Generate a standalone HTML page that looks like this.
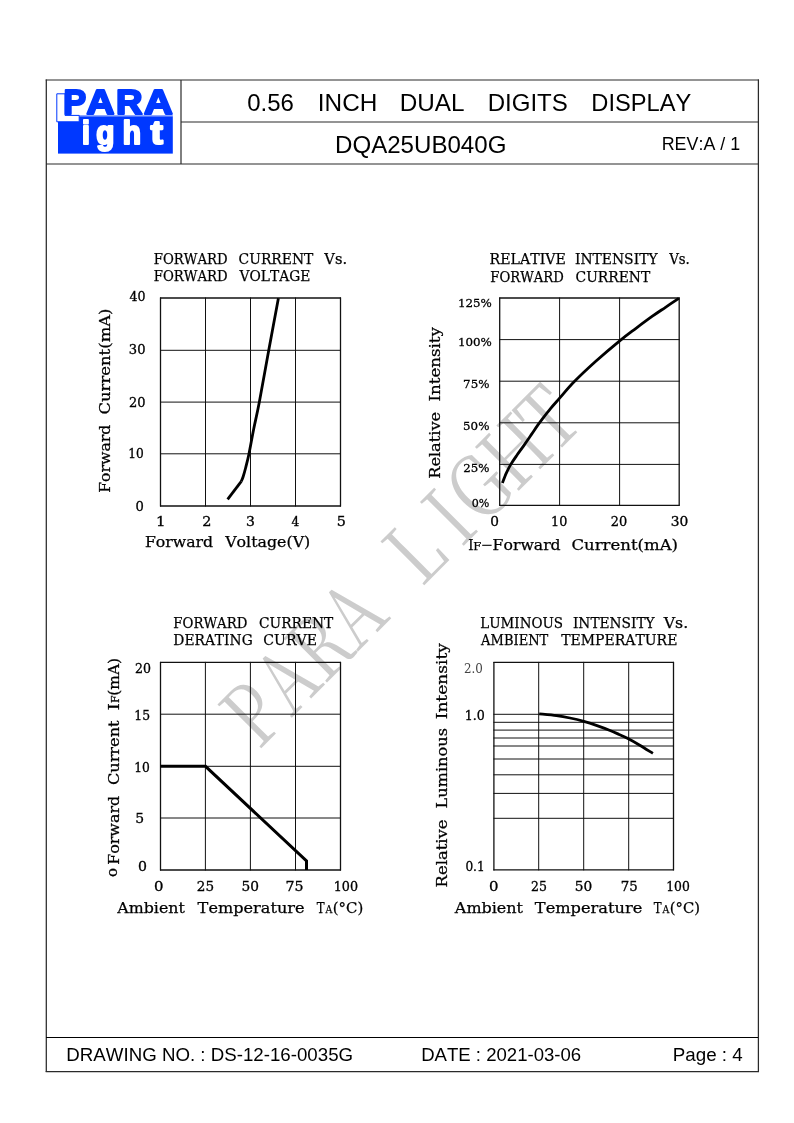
<!DOCTYPE html>
<html><head><meta charset="utf-8"><title>DQA25UB040G</title>
<style>
html,body{margin:0;padding:0;background:#fff;}
body{width:794px;height:1123px;overflow:hidden;}
svg{display:block;will-change:transform;}
text{white-space:pre;font-kerning:none;font-variant-ligatures:none;}
</style></head>
<body>
<svg width="794" height="1123" viewBox="0 0 794 1123">
<rect width="794" height="1123" fill="#fff"/>
<text transform="translate(258.80,750.70) rotate(-45.0) scale(0.79,1)" x="0.0 58.0 117.5 176.9 235.0 291.9 362.4 400.7 460.8 528.4" y="0" font-family='"Noto Serif CJK SC", "Liberation Serif", serif' font-weight="400" font-size="85" fill="#cccccc">PARA LIGHT</text>
<line x1="46.3" y1="79.5" x2="46.3" y2="1072" stroke="#2a2a2a" stroke-width="1.25"/>
<line x1="758.4" y1="79.5" x2="758.4" y2="1072" stroke="#2a2a2a" stroke-width="1.25"/>
<line x1="45.7" y1="80" x2="759" y2="80" stroke="#2a2a2a" stroke-width="1.2"/>
<line x1="45.7" y1="1071.5" x2="759" y2="1071.5" stroke="#2a2a2a" stroke-width="1.25"/>
<line x1="46" y1="164" x2="758" y2="164" stroke="#2a2a2a" stroke-width="1.2"/>
<line x1="181" y1="80" x2="181" y2="164" stroke="#2a2a2a" stroke-width="1.2"/>
<line x1="181" y1="122" x2="758" y2="122" stroke="#2a2a2a" stroke-width="1.2"/>
<line x1="46" y1="1037.5" x2="758" y2="1037.5" stroke="#000" stroke-width="1.05"/>
<rect x="58" y="116.2" width="114.8" height="37.4" fill="#0038ff"/>
<rect x="58" y="115.0" width="114.8" height="1.3" fill="#8fa6ff"/>
<path d="M56.8,93.8 H65 V115.4 H79.2 V121.8 H56.8 Z" fill="#fff" stroke="#0038ff" stroke-width="1.0"/>
<text x="63.53" y="113.90" font-family='"Liberation Sans", Arial, sans-serif' font-weight="bold" font-size="35.75581395348838" textLength="22.63" lengthAdjust="spacingAndGlyphs" fill="#0038ff" stroke="#0038ff" stroke-width="2.2" stroke-linejoin="round">P</text>
<text x="86.44" y="113.90" font-family='"Liberation Sans", Arial, sans-serif' font-weight="bold" font-size="35.75581395348838" textLength="27.88" lengthAdjust="spacingAndGlyphs" fill="#0038ff" stroke="#0038ff" stroke-width="2.2" stroke-linejoin="round">A</text>
<text x="116.14" y="113.90" font-family='"Liberation Sans", Arial, sans-serif' font-weight="bold" font-size="35.75581395348838" textLength="26.51" lengthAdjust="spacingAndGlyphs" fill="#0038ff" stroke="#0038ff" stroke-width="2.2" stroke-linejoin="round">R</text>
<text x="144.01" y="113.90" font-family='"Liberation Sans", Arial, sans-serif' font-weight="bold" font-size="35.75581395348838" textLength="28.74" lengthAdjust="spacingAndGlyphs" fill="#0038ff" stroke="#0038ff" stroke-width="2.2" stroke-linejoin="round">A</text>
<text x="82.02" y="144.40" font-family='"Liberation Sans", Arial, sans-serif' font-weight="bold" font-size="32.3" textLength="7.90" lengthAdjust="spacingAndGlyphs" fill="#fff" stroke="#fff" stroke-width="2.2" stroke-linejoin="round">i</text>
<text x="96.18" y="144.40" font-family='"Liberation Sans", Arial, sans-serif' font-weight="bold" font-size="32.3" textLength="18.10" lengthAdjust="spacingAndGlyphs" fill="#fff" stroke="#fff" stroke-width="2.2" stroke-linejoin="round">g</text>
<text x="122.82" y="144.40" font-family='"Liberation Sans", Arial, sans-serif' font-weight="bold" font-size="32.3" textLength="18.24" lengthAdjust="spacingAndGlyphs" fill="#fff" stroke="#fff" stroke-width="2.2" stroke-linejoin="round">h</text>
<text x="150.76" y="144.40" font-family='"Liberation Sans", Arial, sans-serif' font-weight="bold" font-size="32.3" textLength="12.09" lengthAdjust="spacingAndGlyphs" fill="#fff" stroke="#fff" stroke-width="2.2" stroke-linejoin="round">t</text>
<text x="247.26" y="110.60" font-family='"Liberation Sans", Arial, sans-serif' font-weight="normal" font-size="24" textLength="46.69" lengthAdjust="spacingAndGlyphs" fill="#000" >0.56</text>
<text x="317.85" y="110.60" font-family='"Liberation Sans", Arial, sans-serif' font-weight="normal" font-size="24" textLength="59.53" lengthAdjust="spacingAndGlyphs" fill="#000" >INCH</text>
<text x="399.71" y="110.60" font-family='"Liberation Sans", Arial, sans-serif' font-weight="normal" font-size="24" textLength="64.80" lengthAdjust="spacingAndGlyphs" fill="#000" >DUAL</text>
<text x="487.63" y="110.60" font-family='"Liberation Sans", Arial, sans-serif' font-weight="normal" font-size="24" textLength="80.18" lengthAdjust="spacingAndGlyphs" fill="#000" >DIGITS</text>
<text x="591.36" y="110.60" font-family='"Liberation Sans", Arial, sans-serif' font-weight="normal" font-size="24" textLength="99.86" lengthAdjust="spacingAndGlyphs" fill="#000" >DISPLAY</text>
<text x="335.02" y="152.70" font-family='"Liberation Sans", Arial, sans-serif' font-weight="normal" font-size="24" textLength="171.38" lengthAdjust="spacingAndGlyphs" fill="#000" >DQA25UB040G</text>
<text x="661.73" y="150.00" font-family='"Liberation Sans", Arial, sans-serif' font-weight="normal" font-size="18" textLength="78.44" lengthAdjust="spacingAndGlyphs" fill="#000" >REV:A / 1</text>
<text x="66.37" y="1060.90" font-family='"Liberation Sans", Arial, sans-serif' font-weight="normal" font-size="18.67" textLength="286.73" lengthAdjust="spacingAndGlyphs" fill="#000" >DRAWING NO. : DS-12-16-0035G</text>
<text x="421.18" y="1060.90" font-family='"Liberation Sans", Arial, sans-serif' font-weight="normal" font-size="18.67" textLength="160.04" lengthAdjust="spacingAndGlyphs" fill="#000" >DATE : 2021-03-06</text>
<text x="672.76" y="1060.90" font-family='"Liberation Sans", Arial, sans-serif' font-weight="normal" font-size="18.67" textLength="69.99" lengthAdjust="spacingAndGlyphs" fill="#000" >Page : 4</text>
<line x1="160.5" y1="297.5" x2="160.5" y2="506.5" stroke="#111" stroke-width="1.3"/>
<line x1="205.5" y1="297.5" x2="205.5" y2="506.5" stroke="#111" stroke-width="1.0"/>
<line x1="250.5" y1="297.5" x2="250.5" y2="506.5" stroke="#111" stroke-width="1.0"/>
<line x1="295.5" y1="297.5" x2="295.5" y2="506.5" stroke="#111" stroke-width="1.0"/>
<line x1="340.5" y1="297.5" x2="340.5" y2="506.5" stroke="#111" stroke-width="1.3"/>
<line x1="160.0" y1="298" x2="341.0" y2="298" stroke="#111" stroke-width="1.3"/>
<line x1="160.0" y1="350.3" x2="341.0" y2="350.3" stroke="#111" stroke-width="1.0"/>
<line x1="160.0" y1="402.1" x2="341.0" y2="402.1" stroke="#111" stroke-width="1.0"/>
<line x1="160.0" y1="453.8" x2="341.0" y2="453.8" stroke="#111" stroke-width="1.0"/>
<line x1="160.0" y1="506" x2="341.0" y2="506" stroke="#111" stroke-width="1.3"/>
<polyline points="227.6,499.4 241.3,481.4" fill="none" stroke="#000" stroke-width="2.8" stroke-linejoin="round" stroke-linecap="butt"/>
<path d="M241.30,481.40 C241.62,480.58 242.48,478.73 243.20,476.50 C243.92,474.27 244.63,471.80 245.60,468.00 C246.57,464.20 247.65,460.20 249.00,453.70 C250.35,447.20 251.98,437.58 253.70,429.00 C255.42,420.42 256.80,415.28 259.30,402.20 C261.80,389.12 265.52,367.83 268.70,350.50 C271.88,333.17 276.78,306.92 278.40,298.20" fill="none" stroke="#000" stroke-width="2.8" stroke-linecap="butt" stroke-linejoin="round"/>
<text x="153.77" y="264.00" font-family='"DejaVu Serif", serif' font-weight="normal" font-size="14.5" textLength="73.79" lengthAdjust="spacingAndGlyphs" fill="#000" stroke="#000" stroke-width="0.25">FORWARD</text>
<text x="238.62" y="264.00" font-family='"DejaVu Serif", serif' font-weight="normal" font-size="14.5" textLength="74.71" lengthAdjust="spacingAndGlyphs" fill="#000" stroke="#000" stroke-width="0.25">CURRENT</text>
<text x="324.34" y="264.00" font-family='"DejaVu Serif", serif' font-weight="normal" font-size="14.5" textLength="22.73" lengthAdjust="spacingAndGlyphs" fill="#000" stroke="#000" stroke-width="0.25">Vs.</text>
<text x="153.77" y="281.30" font-family='"DejaVu Serif", serif' font-weight="normal" font-size="14.5" textLength="73.79" lengthAdjust="spacingAndGlyphs" fill="#000" stroke="#000" stroke-width="0.25">FORWARD</text>
<text x="239.53" y="281.30" font-family='"DejaVu Serif", serif' font-weight="normal" font-size="14.5" textLength="70.77" lengthAdjust="spacingAndGlyphs" fill="#000" stroke="#000" stroke-width="0.25">VOLTAGE</text>
<text x="129.41" y="301.40" font-family='"DejaVu Serif", serif' font-weight="normal" font-size="12.3" textLength="16.02" lengthAdjust="spacingAndGlyphs" fill="#000" stroke="#000" stroke-width="0.3">40</text>
<text x="128.80" y="353.70" font-family='"DejaVu Serif", serif' font-weight="normal" font-size="12.3" textLength="16.67" lengthAdjust="spacingAndGlyphs" fill="#000" stroke="#000" stroke-width="0.3">30</text>
<text x="128.92" y="407.00" font-family='"DejaVu Serif", serif' font-weight="normal" font-size="12.3" textLength="16.55" lengthAdjust="spacingAndGlyphs" fill="#000" stroke="#000" stroke-width="0.3">20</text>
<text x="128.31" y="458.30" font-family='"DejaVu Serif", serif' font-weight="normal" font-size="12.3" textLength="15.50" lengthAdjust="spacingAndGlyphs" fill="#000" stroke="#000" stroke-width="0.3">10</text>
<text x="135.54" y="510.60" font-family='"DejaVu Serif", serif' font-weight="normal" font-size="12.3" textLength="8.33" lengthAdjust="spacingAndGlyphs" fill="#000" stroke="#000" stroke-width="0.3">0</text>
<text x="156.06" y="525.90" font-family='"DejaVu Serif", serif' font-weight="normal" font-size="12.3" textLength="9.58" lengthAdjust="spacingAndGlyphs" fill="#000" stroke="#000" stroke-width="0.3">1</text>
<text x="202.22" y="525.90" font-family='"DejaVu Serif", serif' font-weight="normal" font-size="12.3" textLength="9.20" lengthAdjust="spacingAndGlyphs" fill="#000" stroke="#000" stroke-width="0.3">2</text>
<text x="246.13" y="525.90" font-family='"DejaVu Serif", serif' font-weight="normal" font-size="12.3" textLength="8.90" lengthAdjust="spacingAndGlyphs" fill="#000" stroke="#000" stroke-width="0.3">3</text>
<text x="291.52" y="525.90" font-family='"DejaVu Serif", serif' font-weight="normal" font-size="12.3" textLength="7.79" lengthAdjust="spacingAndGlyphs" fill="#000" stroke="#000" stroke-width="0.3">4</text>
<text x="336.68" y="525.90" font-family='"DejaVu Serif", serif' font-weight="normal" font-size="12.3" textLength="9.13" lengthAdjust="spacingAndGlyphs" fill="#000" stroke="#000" stroke-width="0.3">5</text>
<text x="144.93" y="547.30" font-family='"DejaVu Serif", serif' font-weight="normal" font-size="14.5" textLength="68.23" lengthAdjust="spacingAndGlyphs" fill="#000" stroke="#000" stroke-width="0.25">Forward</text>
<text x="225.15" y="547.30" font-family='"DejaVu Serif", serif' font-weight="normal" font-size="14.5" textLength="85.10" lengthAdjust="spacingAndGlyphs" fill="#000" stroke="#000" stroke-width="0.25">Voltage(V)</text>
<text transform="translate(109.90,491.90) rotate(-90)" x="-0.86" y="0" font-family='"DejaVu Serif", serif' font-weight="normal" font-size="14.5" textLength="68.02" lengthAdjust="spacingAndGlyphs" fill="#000" stroke="#000" stroke-width="0.25">Forward</text>
<text transform="translate(109.90,413.70) rotate(-90)" x="-0.92" y="0" font-family='"DejaVu Serif", serif' font-weight="normal" font-size="14.5" textLength="106.12" lengthAdjust="spacingAndGlyphs" fill="#000" stroke="#000" stroke-width="0.25">Current(mA)</text>
<line x1="499.7" y1="297.5" x2="499.7" y2="505.8" stroke="#111" stroke-width="1.3"/>
<line x1="559.6" y1="297.5" x2="559.6" y2="505.8" stroke="#111" stroke-width="1.0"/>
<line x1="619.6" y1="297.5" x2="619.6" y2="505.8" stroke="#111" stroke-width="1.0"/>
<line x1="679.2" y1="297.5" x2="679.2" y2="505.8" stroke="#111" stroke-width="1.3"/>
<line x1="499.2" y1="298" x2="679.7" y2="298" stroke="#111" stroke-width="1.3"/>
<line x1="499.2" y1="339.6" x2="679.7" y2="339.6" stroke="#111" stroke-width="1.0"/>
<line x1="499.2" y1="381.2" x2="679.7" y2="381.2" stroke="#111" stroke-width="1.0"/>
<line x1="499.2" y1="422.8" x2="679.7" y2="422.8" stroke="#111" stroke-width="1.0"/>
<line x1="499.2" y1="464.4" x2="679.7" y2="464.4" stroke="#111" stroke-width="1.0"/>
<line x1="499.2" y1="505.3" x2="679.7" y2="505.3" stroke="#111" stroke-width="1.3"/>
<path d="M502.40,483.00 C503.05,481.37 504.90,476.30 506.30,473.20 C507.70,470.10 508.98,467.47 510.80,464.40 C512.62,461.33 514.92,458.10 517.20,454.80 C519.48,451.50 522.12,448.00 524.50,444.60 C526.88,441.20 529.32,437.60 531.50,434.40 C533.68,431.20 535.75,428.03 537.60,425.40 C539.45,422.77 540.45,421.40 542.60,418.60 C544.75,415.80 547.67,412.00 550.50,408.60 C553.33,405.20 555.67,402.67 559.60,398.20 C563.53,393.73 568.12,387.92 574.10,381.80 C580.08,375.68 587.90,368.33 595.50,361.50 C603.10,354.67 612.95,346.33 619.70,340.80 C626.45,335.27 630.55,332.40 636.00,328.30 C641.45,324.20 647.48,319.70 652.40,316.20 C657.32,312.70 661.10,310.28 665.50,307.30 C669.90,304.32 676.58,299.80 678.80,298.30" fill="none" stroke="#000" stroke-width="2.8" stroke-linecap="butt" stroke-linejoin="round"/>
<text x="489.52" y="263.90" font-family='"DejaVu Serif", serif' font-weight="normal" font-size="14.5" textLength="76.32" lengthAdjust="spacingAndGlyphs" fill="#000" stroke="#000" stroke-width="0.25">RELATIVE</text>
<text x="574.93" y="263.90" font-family='"DejaVu Serif", serif' font-weight="normal" font-size="14.5" textLength="82.64" lengthAdjust="spacingAndGlyphs" fill="#000" stroke="#000" stroke-width="0.25">INTENSITY</text>
<text x="669.13" y="263.90" font-family='"DejaVu Serif", serif' font-weight="normal" font-size="14.5" textLength="20.72" lengthAdjust="spacingAndGlyphs" fill="#000" stroke="#000" stroke-width="0.25">Vs.</text>
<text x="490.37" y="281.50" font-family='"DejaVu Serif", serif' font-weight="normal" font-size="14.5" textLength="73.49" lengthAdjust="spacingAndGlyphs" fill="#000" stroke="#000" stroke-width="0.25">FORWARD</text>
<text x="575.52" y="281.50" font-family='"DejaVu Serif", serif' font-weight="normal" font-size="14.5" textLength="74.71" lengthAdjust="spacingAndGlyphs" fill="#000" stroke="#000" stroke-width="0.25">CURRENT</text>
<text x="457.95" y="307.30" font-family='"DejaVu Serif", serif' font-weight="normal" font-size="11.7" textLength="33.90" lengthAdjust="spacingAndGlyphs" fill="#000" stroke="#000" stroke-width="0.3">125%</text>
<text x="457.95" y="345.90" font-family='"DejaVu Serif", serif' font-weight="normal" font-size="11.7" textLength="33.90" lengthAdjust="spacingAndGlyphs" fill="#000" stroke="#000" stroke-width="0.3">100%</text>
<text x="463.10" y="388.00" font-family='"DejaVu Serif", serif' font-weight="normal" font-size="11.7" textLength="26.35" lengthAdjust="spacingAndGlyphs" fill="#000" stroke="#000" stroke-width="0.3">75%</text>
<text x="463.09" y="430.20" font-family='"DejaVu Serif", serif' font-weight="normal" font-size="11.7" textLength="26.36" lengthAdjust="spacingAndGlyphs" fill="#000" stroke="#000" stroke-width="0.3">50%</text>
<text x="463.30" y="472.00" font-family='"DejaVu Serif", serif' font-weight="normal" font-size="11.7" textLength="26.15" lengthAdjust="spacingAndGlyphs" fill="#000" stroke="#000" stroke-width="0.3">25%</text>
<text x="471.77" y="507.30" font-family='"DejaVu Serif", serif' font-weight="normal" font-size="11.7" textLength="17.65" lengthAdjust="spacingAndGlyphs" fill="#000" stroke="#000" stroke-width="0.3">0%</text>
<text x="490.20" y="526.00" font-family='"DejaVu Serif", serif' font-weight="normal" font-size="12.3" textLength="8.71" lengthAdjust="spacingAndGlyphs" fill="#000" stroke="#000" stroke-width="0.3">0</text>
<text x="551.05" y="526.00" font-family='"DejaVu Serif", serif' font-weight="normal" font-size="12.3" textLength="16.20" lengthAdjust="spacingAndGlyphs" fill="#000" stroke="#000" stroke-width="0.3">10</text>
<text x="610.72" y="526.00" font-family='"DejaVu Serif", serif' font-weight="normal" font-size="12.3" textLength="16.43" lengthAdjust="spacingAndGlyphs" fill="#000" stroke="#000" stroke-width="0.3">20</text>
<text x="670.65" y="526.00" font-family='"DejaVu Serif", serif' font-weight="normal" font-size="12.3" textLength="17.57" lengthAdjust="spacingAndGlyphs" fill="#000" stroke="#000" stroke-width="0.3">30</text>
<text x="468.16" y="549.60" font-family='"DejaVu Serif", serif' font-weight="normal" font-size="14.5" textLength="5.27" lengthAdjust="spacingAndGlyphs" fill="#000" stroke="#000" stroke-width="0.25">I</text>
<text x="473.36" y="549.60" font-family='"DejaVu Serif", serif' font-weight="normal" font-size="11" textLength="8.02" lengthAdjust="spacingAndGlyphs" fill="#000" stroke="#000" stroke-width="0.25">F</text>
<line x1="482.2" y1="545.3" x2="491.6" y2="545.3" stroke="#000" stroke-width="1.1"/>
<text x="492.64" y="549.60" font-family='"DejaVu Serif", serif' font-weight="normal" font-size="14.5" textLength="68.02" lengthAdjust="spacingAndGlyphs" fill="#000" stroke="#000" stroke-width="0.25">Forward</text>
<text x="571.47" y="549.60" font-family='"DejaVu Serif", serif' font-weight="normal" font-size="14.5" textLength="106.53" lengthAdjust="spacingAndGlyphs" fill="#000" stroke="#000" stroke-width="0.25">Current(mA)</text>
<text transform="translate(439.70,477.90) rotate(-90)" x="-0.89" y="0" font-family='"DejaVu Serif", serif' font-weight="normal" font-size="14.5" textLength="66.90" lengthAdjust="spacingAndGlyphs" fill="#000" stroke="#000" stroke-width="0.25">Relative</text>
<text transform="translate(439.70,400.60) rotate(-90)" x="-0.92" y="0" font-family='"DejaVu Serif", serif' font-weight="normal" font-size="14.5" textLength="74.47" lengthAdjust="spacingAndGlyphs" fill="#000" stroke="#000" stroke-width="0.25">Intensity</text>
<line x1="160.5" y1="661.9" x2="160.5" y2="870.5" stroke="#111" stroke-width="1.3"/>
<line x1="205.4" y1="661.9" x2="205.4" y2="870.5" stroke="#111" stroke-width="1.0"/>
<line x1="250.4" y1="661.9" x2="250.4" y2="870.5" stroke="#111" stroke-width="1.0"/>
<line x1="295.5" y1="661.9" x2="295.5" y2="870.5" stroke="#111" stroke-width="1.0"/>
<line x1="340.5" y1="661.9" x2="340.5" y2="870.5" stroke="#111" stroke-width="1.3"/>
<line x1="160.0" y1="662.4" x2="341.0" y2="662.4" stroke="#111" stroke-width="1.3"/>
<line x1="160.0" y1="714.2" x2="341.0" y2="714.2" stroke="#111" stroke-width="1.0"/>
<line x1="160.0" y1="766.3" x2="341.0" y2="766.3" stroke="#111" stroke-width="1.0"/>
<line x1="160.0" y1="818" x2="341.0" y2="818" stroke="#111" stroke-width="1.0"/>
<line x1="160.0" y1="870" x2="341.0" y2="870" stroke="#111" stroke-width="1.3"/>
<polyline points="160.5,766.3 205.5,766.3 306.5,860.9 306.5,870" fill="none" stroke="#000" stroke-width="3" stroke-linejoin="miter"/>
<text x="173.37" y="628.10" font-family='"DejaVu Serif", serif' font-weight="normal" font-size="14.5" textLength="74.00" lengthAdjust="spacingAndGlyphs" fill="#000" stroke="#000" stroke-width="0.25">FORWARD</text>
<text x="259.03" y="628.10" font-family='"DejaVu Serif", serif' font-weight="normal" font-size="14.5" textLength="74.31" lengthAdjust="spacingAndGlyphs" fill="#000" stroke="#000" stroke-width="0.25">CURRENT</text>
<text x="173.34" y="645.10" font-family='"DejaVu Serif", serif' font-weight="normal" font-size="14.5" textLength="79.35" lengthAdjust="spacingAndGlyphs" fill="#000" stroke="#000" stroke-width="0.25">DERATING</text>
<text x="263.31" y="645.10" font-family='"DejaVu Serif", serif' font-weight="normal" font-size="14.5" textLength="53.62" lengthAdjust="spacingAndGlyphs" fill="#000" stroke="#000" stroke-width="0.25">CURVE</text>
<text x="134.95" y="672.50" font-family='"DejaVu Serif", serif' font-weight="normal" font-size="12.3" textLength="15.99" lengthAdjust="spacingAndGlyphs" fill="#000" stroke="#000" stroke-width="0.3">20</text>
<text x="134.29" y="720.00" font-family='"DejaVu Serif", serif' font-weight="normal" font-size="12.3" textLength="15.77" lengthAdjust="spacingAndGlyphs" fill="#000" stroke="#000" stroke-width="0.3">15</text>
<text x="134.30" y="771.80" font-family='"DejaVu Serif", serif' font-weight="normal" font-size="12.3" textLength="15.61" lengthAdjust="spacingAndGlyphs" fill="#000" stroke="#000" stroke-width="0.3">10</text>
<text x="135.22" y="822.90" font-family='"DejaVu Serif", serif' font-weight="normal" font-size="12.3" textLength="8.86" lengthAdjust="spacingAndGlyphs" fill="#000" stroke="#000" stroke-width="0.3">5</text>
<text x="137.97" y="871.00" font-family='"DejaVu Serif", serif' font-weight="normal" font-size="12.3" textLength="8.96" lengthAdjust="spacingAndGlyphs" fill="#000" stroke="#000" stroke-width="0.3">0</text>
<text x="153.92" y="890.70" font-family='"DejaVu Serif", serif' font-weight="normal" font-size="12.3" textLength="9.47" lengthAdjust="spacingAndGlyphs" fill="#000" stroke="#000" stroke-width="0.3">0</text>
<text x="196.88" y="890.70" font-family='"DejaVu Serif", serif' font-weight="normal" font-size="12.3" textLength="17.27" lengthAdjust="spacingAndGlyphs" fill="#000" stroke="#000" stroke-width="0.3">25</text>
<text x="241.43" y="890.70" font-family='"DejaVu Serif", serif' font-weight="normal" font-size="12.3" textLength="17.48" lengthAdjust="spacingAndGlyphs" fill="#000" stroke="#000" stroke-width="0.3">50</text>
<text x="285.61" y="890.70" font-family='"DejaVu Serif", serif' font-weight="normal" font-size="12.3" textLength="17.98" lengthAdjust="spacingAndGlyphs" fill="#000" stroke="#000" stroke-width="0.3">75</text>
<text x="333.75" y="890.70" font-family='"DejaVu Serif", serif' font-weight="normal" font-size="12.3" textLength="24.30" lengthAdjust="spacingAndGlyphs" fill="#000" stroke="#000" stroke-width="0.3">100</text>
<text x="117.29" y="912.70" font-family='"DejaVu Serif", serif' font-weight="normal" font-size="14.5" textLength="67.53" lengthAdjust="spacingAndGlyphs" fill="#000" stroke="#000" stroke-width="0.25">Ambient</text>
<text x="197.64" y="912.70" font-family='"DejaVu Serif", serif' font-weight="normal" font-size="14.5" textLength="106.96" lengthAdjust="spacingAndGlyphs" fill="#000" stroke="#000" stroke-width="0.25">Temperature</text>
<text x="316.79" y="912.70" font-family='"DejaVu Serif", serif' font-weight="normal" font-size="14.5" textLength="7.83" lengthAdjust="spacingAndGlyphs" fill="#000" stroke="#000" stroke-width="0.25">T</text>
<text x="325.56" y="912.70" font-family='"DejaVu Serif", serif' font-weight="normal" font-size="11" textLength="6.85" lengthAdjust="spacingAndGlyphs" fill="#000" stroke="#000" stroke-width="0.25">A</text>
<text x="332.82" y="912.70" font-family='"DejaVu Serif", serif' font-weight="normal" font-size="14.5" textLength="30.46" lengthAdjust="spacingAndGlyphs" fill="#000" stroke="#000" stroke-width="0.25">(°C)</text>
<text transform="translate(116.60,876.20) rotate(-90)" x="-0.75" y="0" font-family='"DejaVu Serif", serif' font-weight="normal" font-size="14" textLength="9.12" lengthAdjust="spacingAndGlyphs" fill="#000" stroke="#000" stroke-width="0.25">o</text>
<text transform="translate(118.90,863.90) rotate(-90)" x="-0.88" y="0" font-family='"DejaVu Serif", serif' font-weight="normal" font-size="14.5" textLength="68.94" lengthAdjust="spacingAndGlyphs" fill="#000" stroke="#000" stroke-width="0.25">Forward</text>
<text transform="translate(118.90,784.20) rotate(-90)" x="-0.91" y="0" font-family='"DejaVu Serif", serif' font-weight="normal" font-size="14.5" textLength="64.63" lengthAdjust="spacingAndGlyphs" fill="#000" stroke="#000" stroke-width="0.25">Current</text>
<text transform="translate(118.90,709.40) rotate(-90)" x="-1.05" y="0" font-family='"DejaVu Serif", serif' font-weight="normal" font-size="14.5" textLength="7.49" lengthAdjust="spacingAndGlyphs" fill="#000" stroke="#000" stroke-width="0.25">I</text>
<text transform="translate(118.90,702.50) rotate(-90)" x="-0.60" y="0" font-family='"DejaVu Serif", serif' font-weight="normal" font-size="11" textLength="7.56" lengthAdjust="spacingAndGlyphs" fill="#000" stroke="#000" stroke-width="0.25">F</text>
<text transform="translate(118.90,694.50) rotate(-90)" x="-1.22" y="0" font-family='"DejaVu Serif", serif' font-weight="normal" font-size="14.5" textLength="37.74" lengthAdjust="spacingAndGlyphs" fill="#000" stroke="#000" stroke-width="0.25">(mA)</text>
<line x1="493.9" y1="661.9" x2="493.9" y2="870.4" stroke="#111" stroke-width="1.3"/>
<line x1="538.7" y1="661.9" x2="538.7" y2="870.4" stroke="#111" stroke-width="1.0"/>
<line x1="583.7" y1="661.9" x2="583.7" y2="870.4" stroke="#111" stroke-width="1.0"/>
<line x1="628.7" y1="661.9" x2="628.7" y2="870.4" stroke="#111" stroke-width="1.0"/>
<line x1="673.5" y1="661.9" x2="673.5" y2="870.4" stroke="#111" stroke-width="1.3"/>
<line x1="493.4" y1="662.4" x2="674.0" y2="662.4" stroke="#111" stroke-width="1.3"/>
<line x1="493.4" y1="714.3" x2="674.0" y2="714.3" stroke="#111" stroke-width="1.0"/>
<line x1="493.4" y1="722.3" x2="674.0" y2="722.3" stroke="#111" stroke-width="1.0"/>
<line x1="493.4" y1="730.1" x2="674.0" y2="730.1" stroke="#111" stroke-width="1.0"/>
<line x1="493.4" y1="738" x2="674.0" y2="738" stroke="#111" stroke-width="1.0"/>
<line x1="493.4" y1="746" x2="674.0" y2="746" stroke="#111" stroke-width="1.0"/>
<line x1="493.4" y1="759" x2="674.0" y2="759" stroke="#111" stroke-width="1.0"/>
<line x1="493.4" y1="774.8" x2="674.0" y2="774.8" stroke="#111" stroke-width="1.0"/>
<line x1="493.4" y1="793.4" x2="674.0" y2="793.4" stroke="#111" stroke-width="1.0"/>
<line x1="493.4" y1="818.3" x2="674.0" y2="818.3" stroke="#111" stroke-width="1.0"/>
<line x1="493.4" y1="869.9" x2="674.0" y2="869.9" stroke="#111" stroke-width="1.3"/>
<path d="M539.20,713.80 C542.08,714.10 551.37,714.90 556.50,715.60 C561.63,716.30 565.45,717.03 570.00,718.00 C574.55,718.97 579.30,720.13 583.80,721.40 C588.30,722.67 592.73,724.13 597.00,725.60 C601.27,727.07 605.73,728.73 609.40,730.20 C613.07,731.67 615.92,733.00 619.00,734.40 C622.08,735.80 624.52,736.83 627.90,738.60 C631.28,740.37 635.13,742.53 639.30,745.00 C643.47,747.47 650.63,752.00 652.90,753.40" fill="none" stroke="#000" stroke-width="2.8" stroke-linecap="butt" stroke-linejoin="round"/>
<text x="480.26" y="628.00" font-family='"DejaVu Serif", serif' font-weight="normal" font-size="14.5" textLength="82.83" lengthAdjust="spacingAndGlyphs" fill="#000" stroke="#000" stroke-width="0.25">LUMINOUS</text>
<text x="572.94" y="628.00" font-family='"DejaVu Serif", serif' font-weight="normal" font-size="14.5" textLength="81.74" lengthAdjust="spacingAndGlyphs" fill="#000" stroke="#000" stroke-width="0.25">INTENSITY</text>
<text x="663.65" y="628.00" font-family='"DejaVu Serif", serif' font-weight="normal" font-size="14.5" textLength="24.53" lengthAdjust="spacingAndGlyphs" fill="#000" stroke="#000" stroke-width="0.25">Vs.</text>
<text x="481.08" y="645.30" font-family='"DejaVu Serif", serif' font-weight="normal" font-size="14.5" textLength="67.25" lengthAdjust="spacingAndGlyphs" fill="#000" stroke="#000" stroke-width="0.25">AMBIENT</text>
<text x="561.16" y="645.30" font-family='"DejaVu Serif", serif' font-weight="normal" font-size="14.5" textLength="116.26" lengthAdjust="spacingAndGlyphs" fill="#000" stroke="#000" stroke-width="0.25">TEMPERATURE</text>
<text x="463.99" y="672.90" font-family='"DejaVu Serif", serif' font-weight="normal" font-size="12.3" textLength="18.90" lengthAdjust="spacingAndGlyphs" fill="#444" >2.0</text>
<text x="464.76" y="719.90" font-family='"DejaVu Serif", serif' font-weight="normal" font-size="12.3" textLength="20.08" lengthAdjust="spacingAndGlyphs" fill="#000" stroke="#000" stroke-width="0.3">1.0</text>
<text x="465.40" y="871.20" font-family='"DejaVu Serif", serif' font-weight="normal" font-size="12.3" textLength="19.33" lengthAdjust="spacingAndGlyphs" fill="#000" stroke="#000" stroke-width="0.3">0.1</text>
<text x="488.92" y="890.70" font-family='"DejaVu Serif", serif' font-weight="normal" font-size="12.3" textLength="9.47" lengthAdjust="spacingAndGlyphs" fill="#000" stroke="#000" stroke-width="0.3">0</text>
<text x="530.95" y="890.70" font-family='"DejaVu Serif", serif' font-weight="normal" font-size="12.3" textLength="15.91" lengthAdjust="spacingAndGlyphs" fill="#000" stroke="#000" stroke-width="0.3">25</text>
<text x="574.83" y="890.70" font-family='"DejaVu Serif", serif' font-weight="normal" font-size="12.3" textLength="17.48" lengthAdjust="spacingAndGlyphs" fill="#000" stroke="#000" stroke-width="0.3">50</text>
<text x="620.68" y="890.70" font-family='"DejaVu Serif", serif' font-weight="normal" font-size="12.3" textLength="16.95" lengthAdjust="spacingAndGlyphs" fill="#000" stroke="#000" stroke-width="0.3">75</text>
<text x="666.19" y="890.70" font-family='"DejaVu Serif", serif' font-weight="normal" font-size="12.3" textLength="23.63" lengthAdjust="spacingAndGlyphs" fill="#000" stroke="#000" stroke-width="0.3">100</text>
<text x="454.89" y="912.70" font-family='"DejaVu Serif", serif' font-weight="normal" font-size="14.5" textLength="68.13" lengthAdjust="spacingAndGlyphs" fill="#000" stroke="#000" stroke-width="0.25">Ambient</text>
<text x="534.84" y="912.70" font-family='"DejaVu Serif", serif' font-weight="normal" font-size="14.5" textLength="107.47" lengthAdjust="spacingAndGlyphs" fill="#000" stroke="#000" stroke-width="0.25">Temperature</text>
<text x="653.79" y="912.70" font-family='"DejaVu Serif", serif' font-weight="normal" font-size="14.5" textLength="7.83" lengthAdjust="spacingAndGlyphs" fill="#000" stroke="#000" stroke-width="0.25">T</text>
<text x="662.56" y="912.70" font-family='"DejaVu Serif", serif' font-weight="normal" font-size="11" textLength="6.85" lengthAdjust="spacingAndGlyphs" fill="#000" stroke="#000" stroke-width="0.25">A</text>
<text x="669.83" y="912.70" font-family='"DejaVu Serif", serif' font-weight="normal" font-size="14.5" textLength="30.13" lengthAdjust="spacingAndGlyphs" fill="#000" stroke="#000" stroke-width="0.25">(°C)</text>
<text transform="translate(447.40,886.50) rotate(-90)" x="-0.90" y="0" font-family='"DejaVu Serif", serif' font-weight="normal" font-size="14.5" textLength="67.82" lengthAdjust="spacingAndGlyphs" fill="#000" stroke="#000" stroke-width="0.25">Relative</text>
<text transform="translate(447.40,807.70) rotate(-90)" x="-0.89" y="0" font-family='"DejaVu Serif", serif' font-weight="normal" font-size="14.5" textLength="80.52" lengthAdjust="spacingAndGlyphs" fill="#000" stroke="#000" stroke-width="0.25">Luminous</text>
<text transform="translate(447.40,718.40) rotate(-90)" x="-0.94" y="0" font-family='"DejaVu Serif", serif' font-weight="normal" font-size="14.5" textLength="76.29" lengthAdjust="spacingAndGlyphs" fill="#000" stroke="#000" stroke-width="0.25">Intensity</text>
</svg>
</body></html>
